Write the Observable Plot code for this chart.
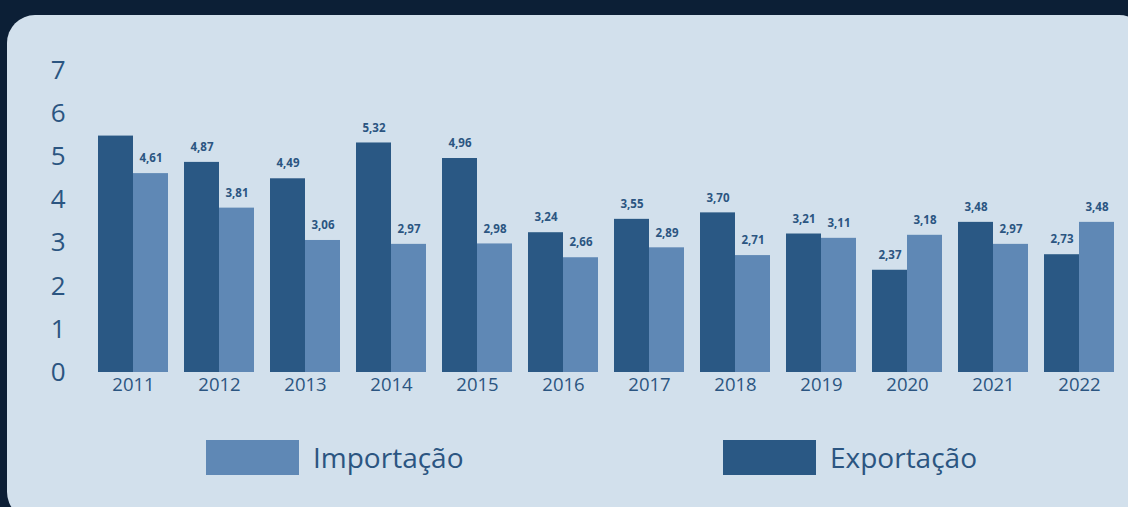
<!DOCTYPE html>
<html>
<head>
<meta charset="utf-8">
<script src="https://cdn.jsdelivr.net/npm/d3@7"></script>
<script src="https://cdn.jsdelivr.net/npm/@observablehq/plot@0.6"></script>
<style>
  html, body { margin: 0; padding: 0; }
  body { width: 1128px; height: 507px; background: #0c1f36; position: relative; overflow: hidden; font-family: "Open Sans", "Noto Sans", sans-serif; }
  #panel { position: absolute; left: 7px; top: 15px; width: 1140px; height: 505px; background: #d2e0ec; border-radius: 28px; }
  #chart { position: absolute; left: 0; top: 0; }
  #legend { position: absolute; left: 206px; top: 438px; display: flex; }
  .item { width: 517px; display: flex; align-items: center; }
  .sw { width: 93px; height: 35px; }
  .lab { margin-left: 14px; font-size: 28px; color: #2b5581; }
</style>
</head>
<body>
<div id="panel"></div>
<div id="chart"></div>
<div id="legend"></div>
<script>
const years = ["2011","2012","2013","2014","2015","2016","2017","2018","2019","2020","2021","2022"];
const exportacao = [5.48, 4.87, 4.49, 5.32, 4.96, 3.24, 3.55, 3.70, 3.21, 2.37, 3.48, 2.73];
const importacao = [4.61, 3.81, 3.06, 2.97, 2.98, 2.66, 2.89, 2.71, 3.11, 3.18, 2.97, 3.48];
const unlabeled = ["2011|Exportação"];
const series = ["Exportação", "Importação"];
const seriesColors = ["#2a5884", "#5f88b5"];
const legendOrder = ["Importação", "Exportação"];
const yTicks = [0, 1, 2, 3, 4, 5, 6, 7];
const textColor = "#2b5581";

const data = years.flatMap((year, i) => [
  {year, serie: "Exportação", value: exportacao[i]},
  {year, serie: "Importação", value: importacao[i]}
]);
const fmt = v => d3.format(".2f")(v).replace(".", ",");

const chart = Plot.plot({
  width: 1128,
  height: 412,
  marginLeft: 90,
  marginRight: 5,
  marginTop: 70,
  marginBottom: 40,
  style: {background: "transparent", fontFamily: "'Open Sans', 'Noto Sans', sans-serif"},
  fx: {domain: years, paddingInner: 0.186, paddingOuter: 0.093, label: null, axis: null},
  x: {domain: series, padding: 0, axis: null},
  y: {domain: [0, 7], axis: null},
  color: {domain: series, range: seriesColors},
  marks: [
    Plot.barY(data, {fx: "year", x: "serie", y: "value", fill: "serie"}),
    Plot.text(data.filter(d => !unlabeled.includes(d.year + "|" + d.serie)), {
      fx: "year", x: "serie", y: "value", text: d => fmt(d.value),
      dy: -15, fontSize: 11.5, fontWeight: "bold", fill: textColor
    }),
    Plot.axisFx({anchor: "bottom", tickSize: 0, tickPadding: 5, fontSize: 18.5, color: textColor, label: null}),
    Plot.axisY({ticks: yTicks, tickFormat: d => String(d), tickSize: 0, tickPadding: 33, fontSize: 26, color: textColor, label: null, textAnchor: "end"})
  ]
});
document.getElementById("chart").appendChild(chart);

const legend = document.getElementById("legend");
legendOrder.forEach(s => {
  const item = document.createElement("div");
  item.className = "item";
  const sw = document.createElement("div");
  sw.className = "sw";
  sw.style.background = seriesColors[series.indexOf(s)];
  const lab = document.createElement("span");
  lab.className = "lab";
  lab.textContent = s;
  item.appendChild(sw);
  item.appendChild(lab);
  legend.appendChild(item);
});
</script>
</body>
</html>
